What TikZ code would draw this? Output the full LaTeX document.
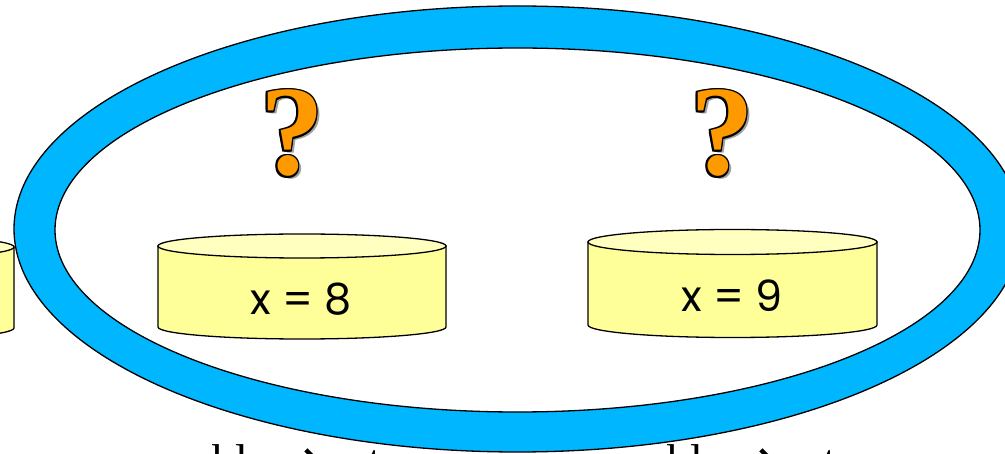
\documentclass[tikz,border=0pt]{standalone}
\usepackage{fontspec}
\setmainfont{Liberation Serif}
\newfontfamily\labfont{Poppins}
\newfontfamily\arrowfont{DejaVu Sans}
\definecolor{ringblue}{RGB}{0,183,255}
\definecolor{cylside}{RGB}{255,255,153}
\definecolor{cyltop}{RGB}{255,255,192}
\definecolor{qorange}{RGB}{255,153,0}
\definecolor{qshadow}{RGB}{160,160,160}
\newcommand\cylshape[5]{%
  \fill[cylside, draw=black, line width=1.3pt] (#1-#4,#2) -- (#1-#4,#3)
    arc[start angle=180, end angle=0, x radius=#4, y radius=#5] -- (#1+#4,#2) -- cycle;
  \draw[fill=cyltop, line width=1.3pt] (#1,#2) ellipse [x radius=#4, y radius=#5];}
\newcommand\qglyph{%
  \rlap{\kern3pt\raisebox{-3pt}{\textcolor{qshadow}{?}}}%
  \rlap{\kern-1.6pt\textcolor{black}{?}}%
  \rlap{\kern1.6pt\textcolor{black}{?}}%
  \rlap{\raisebox{1.6pt}{\textcolor{black}{?}}}%
  \rlap{\raisebox{-1.6pt}{\textcolor{black}{?}}}%
  \rlap{\kern-1.1pt\raisebox{1.1pt}{\textcolor{black}{?}}}%
  \rlap{\kern1.1pt\raisebox{1.1pt}{\textcolor{black}{?}}}%
  \rlap{\kern-1.1pt\raisebox{-1.1pt}{\textcolor{black}{?}}}%
  \rlap{\kern1.1pt\raisebox{-1.1pt}{\textcolor{black}{?}}}%
  \textcolor{qorange}{?}}
\newcommand\caparrow{\raisebox{2pt}{\arrowfont\bfseries →}}
\begin{document}
\begin{tikzpicture}[x=1pt,y=-1pt,
  qm/.style={inner sep=0pt, anchor=base, font=\bfseries\fontsize{128}{128}\selectfont},
  lab/.style={inner sep=0pt, font=\labfont\fontsize{43}{43}\selectfont},
  capt/.style={inner sep=0pt, anchor=base west, font=\fontsize{46}{46}\selectfont}]
\useasboundingbox (0,0) rectangle (1005,454);
\clip (0,0) rectangle (1005,454);
\fill[white] (0,0) rectangle (1005,454);
% left partial cylinder
\cylshape{-130}{247}{328}{144}{12}
% ring
\fill[ringblue, even odd rule] (517.5,229) ellipse [x radius=503.5, y radius=223]
  (517.5,230) ellipse [x radius=462.5, y radius=182];
\draw[line width=1.3pt] (517.5,229) ellipse [x radius=503.5, y radius=223];
\draw[line width=1.3pt] (517.5,230) ellipse [x radius=462.5, y radius=182];
% cylinders
\cylshape{302}{246}{327}{144}{12}
\cylshape{732.5}{242}{325}{144.5}{12.5}
\node[lab] (lab8) at (301,299) {x = 8};
\node[lab] (lab9) at (732,296) {x = 9};
% question marks
\node[qm] (q1) at (292,175) {\qglyph};
\node[qm] (q2) at (722,175) {\qglyph};
% cut-off caption
\node[capt] (captL) at (151,476) {usable \caparrow{} set};
\node[capt] (captR) at (606,476) {usable \caparrow{} set};
\end{tikzpicture}
\end{document}
